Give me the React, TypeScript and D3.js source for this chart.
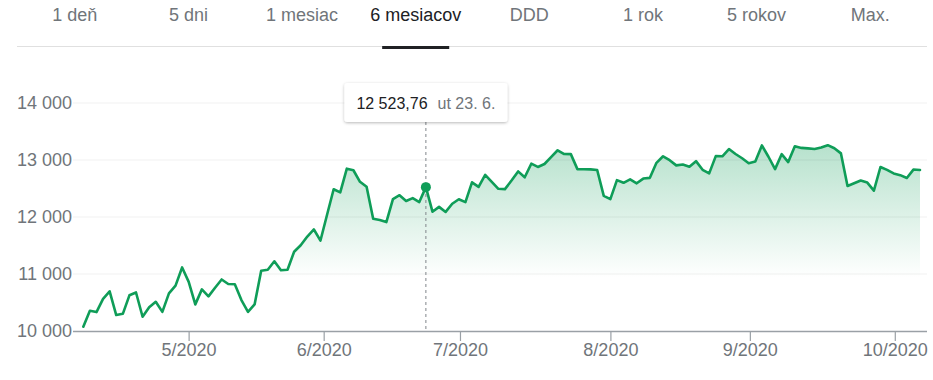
import React, { useEffect, useRef } from "react";
import * as d3 from "d3";

const tabLabels = ["1 deň", "5 dni", "1 mesiac", "6 mesiacov", "DDD", "1 rok", "5 rokov", "Max."];
const activeTab = "6 mesiacov";

const year = 2020;
const yTickValues = [10000, 11000, 12000, 13000, 14000];
const monthTicks = [5, 6, 7, 8, 9, 10];
const monthTickLabels = ["5/2020", "6/2020", "7/2020", "8/2020", "9/2020", "10/2020"];

const aprilDays = [6, 7, 8, 9, 14, 15, 16, 17, 20, 21, 22, 23, 24, 27, 28, 29, 30];
const aprilValues = [10075, 10356, 10332, 10564, 10696, 10280, 10301, 10626, 10676, 10250, 10415, 10513, 10336, 10660, 10796, 11115, 10862];

const mayDays = [4, 5, 6, 7, 8, 11, 12, 13, 14, 15, 18, 19, 20, 21, 22, 25, 26, 27, 28, 29];
const mayValues = [10467, 10730, 10607, 10759, 10904, 10825, 10820, 10542, 10337, 10465, 11058, 11075, 11223, 11065, 11074, 11391, 11504, 11657, 11781, 11587];

const juneDays = [2, 3, 4, 5, 8, 9, 10, 11, 12, 15, 16, 17, 18, 19, 22, 23, 24, 25, 26, 29, 30];
const juneValues = [12040, 12487, 12431, 12848, 12820, 12617, 12530, 11970, 11949, 11911, 12315, 12382, 12281, 12331, 12262, 12523.76, 12093, 12178, 12089, 12232, 12311];

const julyDays = [1, 2, 3, 6, 7, 8, 9, 10, 13, 14, 15, 16, 17, 20, 21, 22, 23, 24, 27, 28, 29, 30, 31];
const julyValues = [12260, 12608, 12528, 12740, 12617, 12495, 12489, 12640, 12800, 12697, 12935, 12878, 12930, 13050, 13171, 13104, 13103, 12840, 12839, 12835, 12825, 12370, 12313];

const augustDays = [3, 4, 5, 6, 7, 10, 11, 12, 13, 14, 17, 18, 19, 20, 21, 24, 25, 26, 27, 28, 31];
const augustValues = [12647, 12600, 12660, 12591, 12674, 12687, 12950, 13065, 12997, 12906, 12922, 12881, 12980, 12828, 12765, 13068, 13065, 13192, 13105, 13031, 12944];

const septemberDays = [1, 2, 3, 4, 7, 8, 9, 10, 11, 14, 15, 16, 17, 18, 21, 22, 23, 24, 25, 28, 29, 30];
const septemberValues = [12972, 13255, 13057, 12840, 13102, 12964, 13240, 13212, 13204, 13194, 13220, 13260, 13207, 13116, 12543, 12593, 12640, 12604, 12462, 12877, 12826, 12764];

const octoberDays = [1, 2, 5, 6];
const octoberValues = [12734, 12684, 12832, 12825];

const hoverMonth = 6;
const hoverDay = 23;
const weekdayNames = ["ne", "po", "ut", "st", "št", "pi", "so"];

const series = [
  { month: 4, days: aprilDays, values: aprilValues },
  { month: 5, days: mayDays, values: mayValues },
  { month: 6, days: juneDays, values: juneValues },
  { month: 7, days: julyDays, values: julyValues },
  { month: 8, days: augustDays, values: augustValues },
  { month: 9, days: septemberDays, values: septemberValues },
  { month: 10, days: octoberDays, values: octoberValues },
];

const W = 933;
const H = 380;
const FONT = "Arial, 'Liberation Sans', sans-serif";
const GREEN = "#0f9d58";

const skLocale = d3.formatLocale({ decimal: ",", thousands: "\u00a0", grouping: [3], currency: ["", " €"] });
const fmtInt = skLocale.format(",.0f");
const fmtDec = skLocale.format(",.2f");

export default function App() {
  const ref = useRef<SVGSVGElement | null>(null);

  useEffect(() => {
    const svg = d3.select(ref.current);
    svg.selectAll("*").remove();

    const points = series.flatMap((s) =>
      s.days.map((d, i) => ({ date: new Date(year, s.month - 1, d, 18), month: s.month, day: d, value: s.values[i] }))
    );
    const N = points.length;

    // ----- tabs -----
    const tabScale = d3.scaleBand<string>().domain(tabLabels).range([18, 927]);
    const tabs = svg.append("g");
    tabs
      .append("line")
      .attr("x1", 17)
      .attr("x2", 927)
      .attr("y1", 46.5)
      .attr("y2", 46.5)
      .attr("stroke", "#e0e0e0")
      .attr("stroke-width", 1);
    tabLabels.forEach((t) => {
      const cx = (tabScale(t) as number) + tabScale.bandwidth() / 2;
      const txt = tabs
        .append("text")
        .attr("x", cx)
        .attr("y", 21)
        .attr("text-anchor", "middle")
        .attr("font-family", FONT)
        .attr("font-size", 18)
        .attr("fill", t === activeTab ? "#202124" : "#70757a")
        .text(t);
      if (t === activeTab) {
        const w = (txt.node() as SVGTextElement).getComputedTextLength();
        const uw = w - 24;
        tabs
          .append("rect")
          .attr("x", cx - uw / 2)
          .attr("y", 46)
          .attr("width", uw)
          .attr("height", 3)
          .attr("fill", "#202124");
      }
    });

    // ----- scales -----
    const xIdx = d3.scaleLinear().domain([0, N - 1]).range([83.3, 920]);
    const times = points.map((p) => +p.date);
    const xTime = d3.scaleLinear().domain(times).range(points.map((_, i) => xIdx(i)));
    const y = d3.scaleLinear().domain([10000, 14000]).range([331, 103]);

    const defs = svg.append("defs");
    const grad = defs
      .append("linearGradient")
      .attr("id", "areaGrad")
      .attr("gradientUnits", "userSpaceOnUse")
      .attr("x1", 0)
      .attr("x2", 0)
      .attr("y1", y(13250))
      .attr("y2", y(10930));
    grad.append("stop").attr("offset", 0).attr("stop-color", GREEN).attr("stop-opacity", 0.3);
    grad.append("stop").attr("offset", 1).attr("stop-color", GREEN).attr("stop-opacity", 0);

    const shadow = defs.append("filter").attr("id", "tipShadow").attr("x", "-20%").attr("y", "-40%").attr("width", "140%").attr("height", "180%");
    shadow
      .append("feDropShadow")
      .attr("dx", 0)
      .attr("dy", 1)
      .attr("stdDeviation", 1.5)
      .attr("flood-color", "#000")
      .attr("flood-opacity", 0.28);

    // ----- area -----
    const area = d3
      .area<typeof points[number]>()
      .x((p) => xTime(+p.date))
      .y0(y(10000))
      .y1((p) => y(p.value));
    svg.append("path").datum(points).attr("d", area).attr("fill", "url(#areaGrad)");

    // ----- grid -----
    const grid = svg.append("g");
    yTickValues
      .filter((v) => v !== 10000)
      .forEach((v) => {
        grid
          .append("line")
          .attr("x1", 73)
          .attr("x2", 927)
          .attr("y1", y(v))
          .attr("y2", y(v))
          .attr("stroke", "#000")
          .attr("stroke-opacity", 0.055)
          .attr("stroke-width", 1);
      });

    // y labels
    yTickValues.forEach((v) => {
      svg
        .append("text")
        .attr("x", 72)
        .attr("y", y(v) + 6.4)
        .attr("text-anchor", "end")
        .attr("font-family", FONT)
        .attr("font-size", 18)
        .attr("fill", "#70757a")
        .text(fmtInt(v));
    });

    // x axis
    svg
      .append("line")
      .attr("x1", 73)
      .attr("x2", 927)
      .attr("y1", y(10000) + 0.5)
      .attr("y2", y(10000) + 0.5)
      .attr("stroke", "#9aa0a6")
      .attr("stroke-width", 1.5);
    monthTicks.forEach((m, i) => {
      const tx = xTime(+new Date(year, m - 1, 1));
      svg
        .append("line")
        .attr("x1", tx)
        .attr("x2", tx)
        .attr("y1", y(10000))
        .attr("y2", y(10000) + 10)
        .attr("stroke", "#9aa0a6")
        .attr("stroke-width", 1.2);
      svg
        .append("text")
        .attr("x", tx)
        .attr("y", 356)
        .attr("text-anchor", "middle")
        .attr("font-family", FONT)
        .attr("font-size", 18)
        .attr("fill", "#70757a")
        .text(monthTickLabels[i]);
    });

    // hover line
    const hp = points.find((p) => p.month === hoverMonth && p.day === hoverDay)!;
    const hx = xTime(+hp.date);
    const tipTop = 83;
    const tipH = 39;
    svg
      .append("line")
      .attr("x1", hx)
      .attr("x2", hx)
      .attr("y1", tipTop + tipH)
      .attr("y2", y(10000))
      .attr("stroke", "#80868b")
      .attr("stroke-width", 1)
      .attr("stroke-dasharray", "3,3");

    // line
    const line = d3
      .line<typeof points[number]>()
      .x((p) => xTime(+p.date))
      .y((p) => y(p.value));
    svg
      .append("path")
      .datum(points)
      .attr("d", line)
      .attr("fill", "none")
      .attr("stroke", GREEN)
      .attr("stroke-width", 2.6)
      .attr("stroke-linejoin", "round")
      .attr("stroke-linecap", "round");

    svg.append("circle").attr("cx", hx).attr("cy", y(hp.value)).attr("r", 5).attr("fill", GREEN);

    // tooltip
    const tip = svg.append("g");
    const box = tip.append("rect").attr("rx", 3).attr("ry", 3).attr("fill", "#fff").attr("filter", "url(#tipShadow)");
    const t1 = tip
      .append("text")
      .attr("y", tipTop + 25.5)
      .attr("font-family", FONT)
      .attr("font-size", 16)
      .attr("fill", "#202124")
      .text(fmtDec(hp.value));
    const t2 = tip
      .append("text")
      .attr("y", tipTop + 25.5)
      .attr("font-family", FONT)
      .attr("font-size", 16)
      .attr("fill", "#70757a")
      .text(`${weekdayNames[hp.date.getDay()]} ${hp.day}. ${hp.month}.`);
    const w1 = (t1.node() as SVGTextElement).getComputedTextLength();
    const w2 = (t2.node() as SVGTextElement).getComputedTextLength();
    const pad = 12;
    const gap = 10;
    const bw = pad * 2 + w1 + gap + w2;
    const bx = hx - bw / 2;
    box.attr("x", bx).attr("y", tipTop).attr("width", bw).attr("height", tipH);
    t1.attr("x", bx + pad);
    t2.attr("x", bx + pad + w1 + gap);
  }, []);

  return (
    <svg
      ref={ref}
      width={W}
      height={H}
      style={{ position: "absolute", left: 0, top: 0, background: "#fff" }}
    />
  );
}
